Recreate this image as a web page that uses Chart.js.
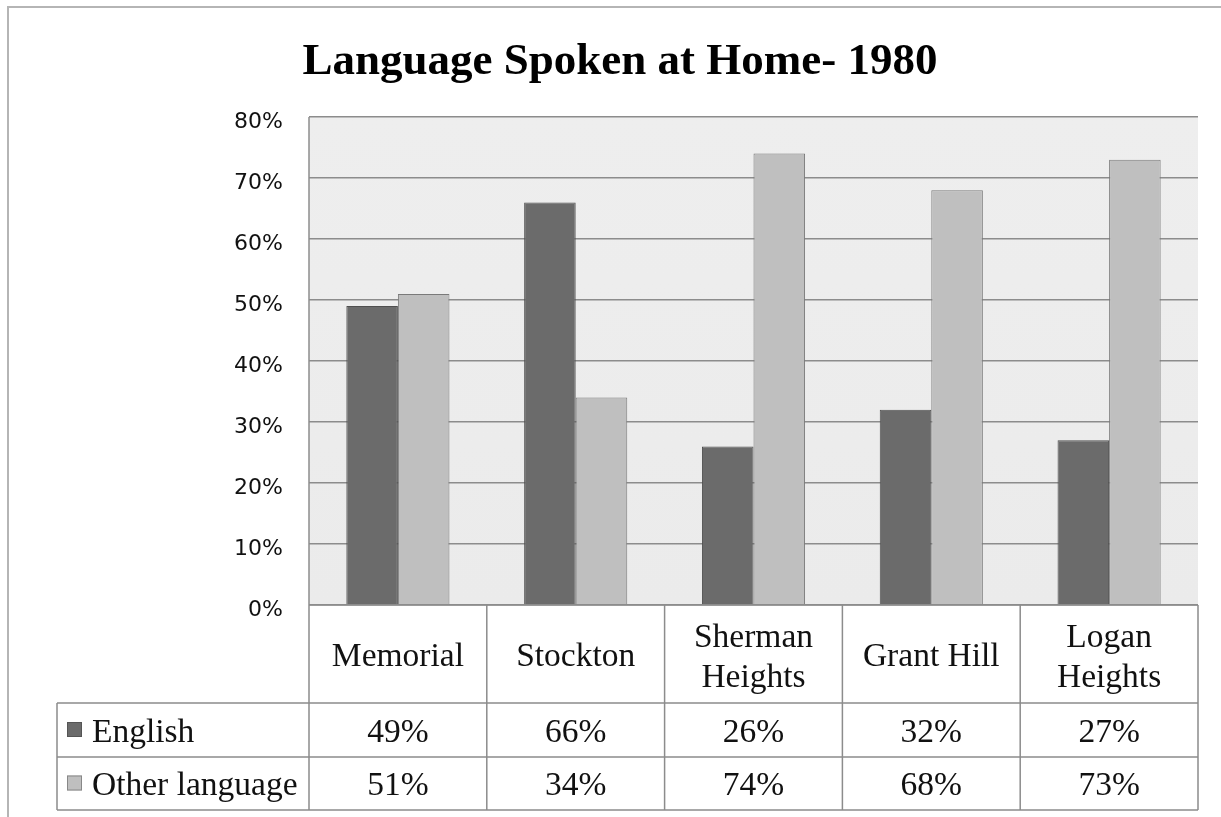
<!DOCTYPE html>
<html>
<head>
<meta charset="utf-8">
<title>Language Spoken at Home- 1980</title>
<script src="https://cdn.jsdelivr.net/npm/chart.js@4"></script>
<style>
  html, body { margin: 0; padding: 0; background: #fff; }
  #wrap { width: 1221px; height: 817px; }
</style>
</head>
<body>
<div id="wrap"><canvas id="languageChart" width="1221" height="817"></canvas></div>
<script>
const chartTitle = "Language Spoken at Home- 1980";
const neighborhoods = [["Memorial"], ["Stockton"], ["Sherman", "Heights"], ["Grant Hill"], ["Logan", "Heights"]];
const seriesNames = ["English", "Other language"];
const english = [49, 66, 26, 32, 27];
const otherLanguage = [51, 34, 74, 68, 73];
const yTicks = [0, 10, 20, 30, 40, 50, 60, 70, 80];

const darkFill = "#6b6b6b";
const lightFill = "#bfbfbf";
const lineColor = "#8c8c8c";
const serif = "'Liberation Serif', 'Times New Roman', serif";

// row boundaries of the data table under the plot
const tableTop = 605;
const rowBounds = [703, 757, 810];
const tableLeft = 57;

const tablePlugin = {
    id: "dataTable",
    beforeDraw(chart) {
        const ctx = chart.ctx;
        const a = chart.chartArea;
        ctx.save();
        ctx.fillStyle = "#fff";
        ctx.fillRect(0, 0, chart.width, chart.height);

        // frame around the figure
        ctx.strokeStyle = "#b5b5b5";
        ctx.lineWidth = 2;
        ctx.beginPath();
        ctx.moveTo(8, chart.height);
        ctx.lineTo(8, 7);
        ctx.lineTo(chart.width, 7);
        ctx.stroke();

        // plot background
        const grad = ctx.createLinearGradient(0, a.top, 0, a.bottom);
        grad.addColorStop(0, "#eeeeee");
        grad.addColorStop(1, "#ebebeb");
        ctx.fillStyle = grad;
        ctx.fillRect(a.left, a.top, a.right - a.left, a.bottom - a.top);
        ctx.restore();
    },
    afterDraw(chart) {
        const ctx = chart.ctx;
        const a = chart.chartArea;
        const xs = chart.scales.x;
        const ys = chart.scales.y;
        const colW = (a.right - a.left) / neighborhoods.length;

        ctx.save();

        // title
        ctx.fillStyle = "#000";
        ctx.font = "bold 45px " + serif;
        ctx.textAlign = "center";
        ctx.textBaseline = "alphabetic";
        ctx.fillText(chartTitle, 620, 74);

        // y tick labels
        ctx.font = "22px 'DejaVu Sans', sans-serif";
        ctx.textAlign = "right";
        ctx.textBaseline = "middle";
        ctx.fillStyle = "#111";
        yTicks.forEach(v => {
            ctx.fillText(v + "%", 283, ys.getPixelForValue(v) + 5);
        });

        // left edge of the plot
        ctx.strokeStyle = lineColor;
        ctx.lineWidth = 1.5;
        ctx.beginPath();
        ctx.moveTo(a.left, a.top);
        ctx.lineTo(a.left, a.bottom);
        ctx.stroke();

        // table grid
        ctx.beginPath();
        ctx.moveTo(a.left, tableTop);
        ctx.lineTo(a.right, tableTop);
        rowBounds.forEach(y => {
            ctx.moveTo(tableLeft, y);
            ctx.lineTo(a.right, y);
        });
        ctx.moveTo(tableLeft, rowBounds[0]);
        ctx.lineTo(tableLeft, rowBounds[2]);
        for (let i = 0; i <= neighborhoods.length; i++) {
            const x = i < neighborhoods.length ? xs.getPixelForValue(i) - colW / 2 : a.right;
            ctx.moveTo(x, tableTop);
            ctx.lineTo(x, rowBounds[2]);
        }
        ctx.stroke();

        // category names
        ctx.fillStyle = "#111";
        ctx.font = "33.5px " + serif;
        ctx.textAlign = "center";
        ctx.textBaseline = "middle";
        const headMid = (tableTop + rowBounds[0]) / 2 + 3;
        neighborhoods.forEach((lines, i) => {
            const x = xs.getPixelForValue(i);
            if (lines.length === 1) {
                ctx.fillText(lines[0], x, headMid);
            } else {
                ctx.fillText(lines[0], x, headMid - 19);
                ctx.fillText(lines[1], x, headMid + 21);
            }
        });

        // values per series
        const rows = [
            { name: seriesNames[0], data: english, fill: darkFill, stroke: "#555" },
            { name: seriesNames[1], data: otherLanguage, fill: lightFill, stroke: "#888" }
        ];
        rows.forEach((row, r) => {
            const top = r === 0 ? rowBounds[0] : rowBounds[1];
            const bottom = rowBounds[r + 1];
            const mid = (top + bottom) / 2 + 3;
            ctx.textAlign = "center";
            row.data.forEach((v, i) => {
                ctx.fillText(v + "%", xs.getPixelForValue(i), mid);
            });
            ctx.fillStyle = row.fill;
            ctx.fillRect(67, mid - 11, 15, 15);
            ctx.strokeStyle = row.stroke;
            ctx.lineWidth = 1;
            ctx.strokeRect(67.5, mid - 10.5, 14, 14);
            ctx.fillStyle = "#111";
            ctx.textAlign = "left";
            ctx.fillText(row.name, 92, mid);
        });

        ctx.restore();
    }
};

const ctx = document.getElementById("languageChart").getContext("2d");

const chart = new Chart(ctx, {
    type: "bar",
    data: {
        labels: neighborhoods.map(n => n.join(" ")),
        datasets: [
            {
                label: seriesNames[0],
                data: english,
                backgroundColor: darkFill,
                borderColor: "#4f4f4f",
                borderWidth: 1,
            },
            {
                label: seriesNames[1],
                data: otherLanguage,
                backgroundColor: lightFill,
                borderColor: "#7a7a7a",
                borderWidth: 1,
            },
        ],
    },
    options: {
        responsive: false,
        animation: false,
        layout: {
            padding: { left: 0, top: 117, right: 23, bottom: 212 },
        },
        datasets: {
            bar: {
                categoryPercentage: 0.58,
                barPercentage: 1,
            },
        },
        plugins: {
            legend: { display: false },
            title: { display: false },
            tooltip: { enabled: false },
        },
        scales: {
            x: {
                display: false,
            },
            y: {
                min: 0,
                max: 80,
                ticks: { display: false, stepSize: 10 },
                grid: { color: lineColor, lineWidth: 1.5, drawTicks: false },
                border: { display: false },
                afterFit(scale) {
                    scale.width = 309;
                },
            },
        },
    },
    plugins: [tablePlugin],
});
</script>
</body>
</html>
